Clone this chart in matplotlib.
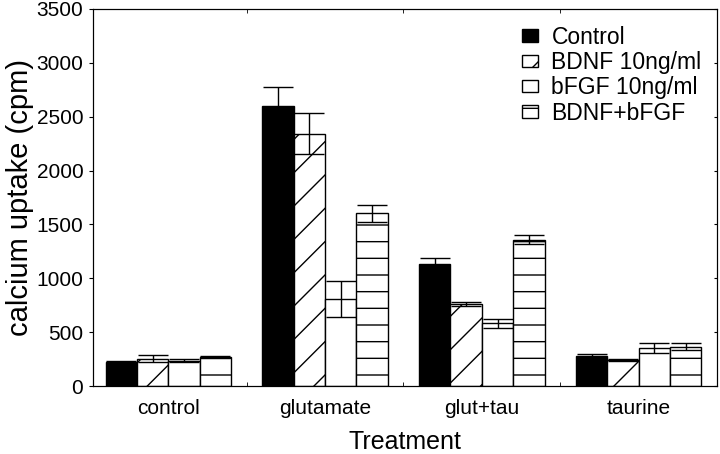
import numpy as np
import matplotlib.pyplot as plt
from matplotlib.ticker import FixedLocator

plt.rcParams['font.family'] = ['Liberation Sans', 'DejaVu Sans']
plt.rcParams['hatch.linewidth'] = 1.0

categories = ['control', 'glutamate', 'glut+tau', 'taurine']
series = ['Control', 'BDNF 10ng/ml', 'bFGF 10ng/ml', 'BDNF+bFGF']

control = [220, 2597, 1136, 279]
control_err = [8, 180, 50, 18]
bdnf = [255, 2340, 764, 241]
bdnf_err = [32, 190, 20, 8]
bfgf = [236, 808, 582, 350]
bfgf_err = [14, 170, 42, 47]
both = [266, 1603, 1356, 365]
both_err = [8, 80, 42, 30]

values = [control, bdnf, bfgf, both]
errors = [control_err, bdnf_err, bfgf_err, both_err]
faces = ['black', 'white', 'white', 'white']
hatches = [None, '/', None, '-']

fig = plt.figure(figsize=(7.2, 4.54), dpi=100)
ax = fig.add_axes([93/720, 68/454, 624/720, 377/454])

x = np.arange(len(categories))
w = 0.2
for i in range(4):
    ax.bar(x + (i - 1.5) * w, values[i], w, color=faces[i], edgecolor='black',
           linewidth=1.0, hatch=hatches[i], label=series[i],
           yerr=errors[i], capsize=11, error_kw=dict(elinewidth=1.0, capthick=1.0, ecolor='black'))

ax.set_xlim(-0.48, 3.5)
ax.set_ylim(0, 3500)
ax.set_yticks(np.arange(0, 3501, 500))
ax.set_xticks(x)
ax.set_xticklabels(categories)
ax.xaxis.set_minor_locator(FixedLocator([0.5, 1.5, 2.5]))
ax.tick_params(axis='x', which='major', length=0, labelsize=15, pad=9)
ax.tick_params(axis='x', which='minor', direction='in', length=3, top=True)
ax.tick_params(axis='y', direction='out', length=3, labelsize=15, pad=4)
# small inward ticks on the right side
ax2 = ax.twinx()
ax2.set_ylim(ax.get_ylim())
ax2.set_yticks(np.arange(0, 3501, 500))
ax2.tick_params(axis='y', direction='in', length=2, labelright=False)

ax.set_xlabel('Treatment', fontsize=18, labelpad=9)
ax.set_ylabel('calcium uptake (cpm)', fontsize=21, labelpad=2)

ax.legend(loc='upper right', bbox_to_anchor=(0.99, 0.98), frameon=False, fontsize=16.5,
          handlelength=0.7, handleheight=0.45, handletextpad=0.6, labelspacing=0.1,
          borderaxespad=0)

plt.savefig('out.png', dpi=100)
plt.close(fig)
